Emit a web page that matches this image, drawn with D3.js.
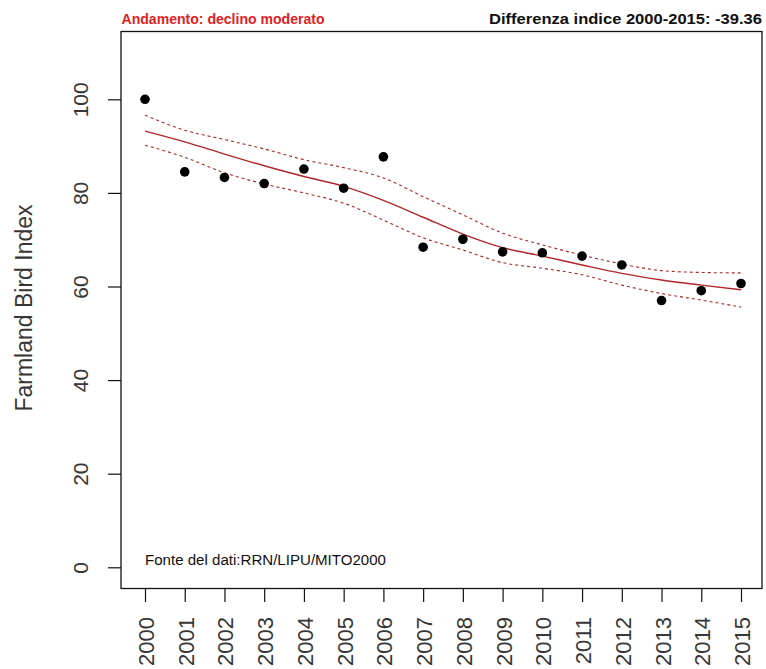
<!DOCTYPE html>
<html>
<head>
<meta charset="utf-8">
<script src="https://cdn.jsdelivr.net/npm/d3@7"></script>
<style>
  html, body { margin: 0; padding: 0; background: #fff; }
  svg { display: block; font-family: "Liberation Sans", Arial, sans-serif; }
</style>
</head>
<body>
<svg id="chart" width="766" height="669"></svg>
<script>
// Farmland Bird Index, 2000–2015
const years = [2000, 2001, 2002, 2003, 2004, 2005, 2006, 2007, 2008, 2009, 2010, 2011, 2012, 2013, 2014, 2015];
const indexValues = [100, 84.5, 83.3, 82.0, 85.1, 81.0, 87.7, 68.4, 70.1, 67.4, 67.2, 66.5, 64.6, 57.0, 59.1, 60.64];
const trend = [93.2, 90.9, 88.3, 85.8, 83.5, 81.4, 78.4, 74.8, 71.2, 68.3, 66.5, 64.6, 62.8, 61.4, 60.3, 59.3];
const trendUpper = [96.6, 93.4, 91.4, 89.4, 87.1, 85.4, 83.2, 79.2, 75.3, 71.4, 68.9, 66.7, 64.8, 63.4, 63.0, 62.9];
const trendLower = [90.2, 87.6, 84.3, 81.9, 80.0, 77.8, 74.2, 70.4, 67.8, 65.1, 63.9, 62.5, 60.3, 58.5, 57.1, 55.6];
const yTicks = [0, 20, 40, 60, 80, 100];
const trendLabel = "Andamento: declino moderato";
const diffLabel = "Differenza indice 2000-2015: -39.36";
const sourceLabel = "Fonte del dati:RRN/LIPU/MITO2000";
const yTitle = "Farmland Bird Index";

const svg = d3.select("#chart");
const box = { left: 121, right: 762, top: 31.5, bottom: 588.5 };
const ink = "#363636";

const x = d3.scaleLinear().domain([2000, 2015]).range([145, 741]);
const y = d3.scaleLinear().domain([0, 100]).range([567.3, 99.3]);

// plot frame
svg.append("rect")
  .attr("x", box.left).attr("y", box.top)
  .attr("width", box.right - box.left).attr("height", box.bottom - box.top)
  .attr("fill", "none").attr("stroke", "#111").attr("stroke-width", 1.3);

// y axis (ticks on the left edge of the frame)
const yAxis = d3.axisLeft(y).tickValues(yTicks).tickSize(13).tickSizeOuter(0).tickFormat(d3.format("d"));
const gy = svg.append("g").attr("transform", `translate(${box.left},0)`).call(yAxis);
gy.select(".domain").remove();
gy.selectAll(".tick line").attr("stroke", "#111").attr("stroke-width", 1.2);
gy.selectAll(".tick text")
  .attr("x", null).attr("dy", null)
  .attr("transform", "translate(-41,0) rotate(-90)")
  .attr("text-anchor", "middle")
  .attr("dominant-baseline", "central")
  .attr("font-size", 21).attr("fill", ink)
  .attr("font-family", "Liberation Sans, Arial, sans-serif");

// x axis
const xAxis = d3.axisBottom(x).tickValues(years).tickSize(13).tickSizeOuter(0).tickFormat(d3.format("d"));
const gx = svg.append("g").attr("transform", `translate(0,${box.bottom + 0.5})`).call(xAxis);
gx.select(".domain").remove();
gx.selectAll(".tick line").attr("stroke", "#111").attr("stroke-width", 1.2);
gx.selectAll(".tick text")
  .attr("y", null).attr("dy", null)
  .attr("transform", "translate(1,28) rotate(-90)")
  .attr("text-anchor", "end")
  .attr("dominant-baseline", "central")
  .attr("font-size", 22).attr("fill", ink)
  .attr("font-family", "Liberation Sans, Arial, sans-serif");

// y title
svg.append("text")
  .attr("transform", `translate(32,${(box.top + box.bottom) / 2 - 2}) rotate(-90)`)
  .attr("text-anchor", "middle")
  .attr("font-size", 23).attr("fill", ink)
  .text(yTitle);

// header texts
svg.append("text")
  .attr("x", box.left + 0.5).attr("y", 24)
  .attr("font-size", 14).attr("font-weight", "bold").attr("fill", "#e0221f")
  .attr("textLength", 203).attr("lengthAdjust", "spacingAndGlyphs")
  .text(trendLabel);
svg.append("text")
  .attr("x", box.right - 273).attr("y", 24)
  .attr("font-size", 14).attr("font-weight", "bold").attr("fill", "#111")
  .attr("textLength", 273).attr("lengthAdjust", "spacingAndGlyphs")
  .text(diffLabel);

// trend with confidence band
const line = d3.line().x((d, i) => x(years[i])).y(d => y(d)).curve(d3.curveMonotoneX);
svg.append("path").datum(trendUpper).attr("d", line)
  .attr("fill", "none").attr("stroke", "#a8282a").attr("stroke-width", 1.1).attr("stroke-dasharray", "3,3");
svg.append("path").datum(trendLower).attr("d", line)
  .attr("fill", "none").attr("stroke", "#a8282a").attr("stroke-width", 1.1).attr("stroke-dasharray", "3,3");
svg.append("path").datum(trend).attr("d", line)
  .attr("fill", "none").attr("stroke", "#b0262a").attr("stroke-width", 1.4);

// yearly index points
svg.append("g").selectAll("circle").data(indexValues).join("circle")
  .attr("cx", (d, i) => x(years[i])).attr("cy", d => y(d))
  .attr("r", 4.8).attr("fill", "#000");

// data source note
svg.append("text")
  .attr("x", 145).attr("y", 565)
  .attr("font-size", 14).attr("fill", "#111")
  .attr("textLength", 241).attr("lengthAdjust", "spacingAndGlyphs")
  .text(sourceLabel);
</script>
</body>
</html>
